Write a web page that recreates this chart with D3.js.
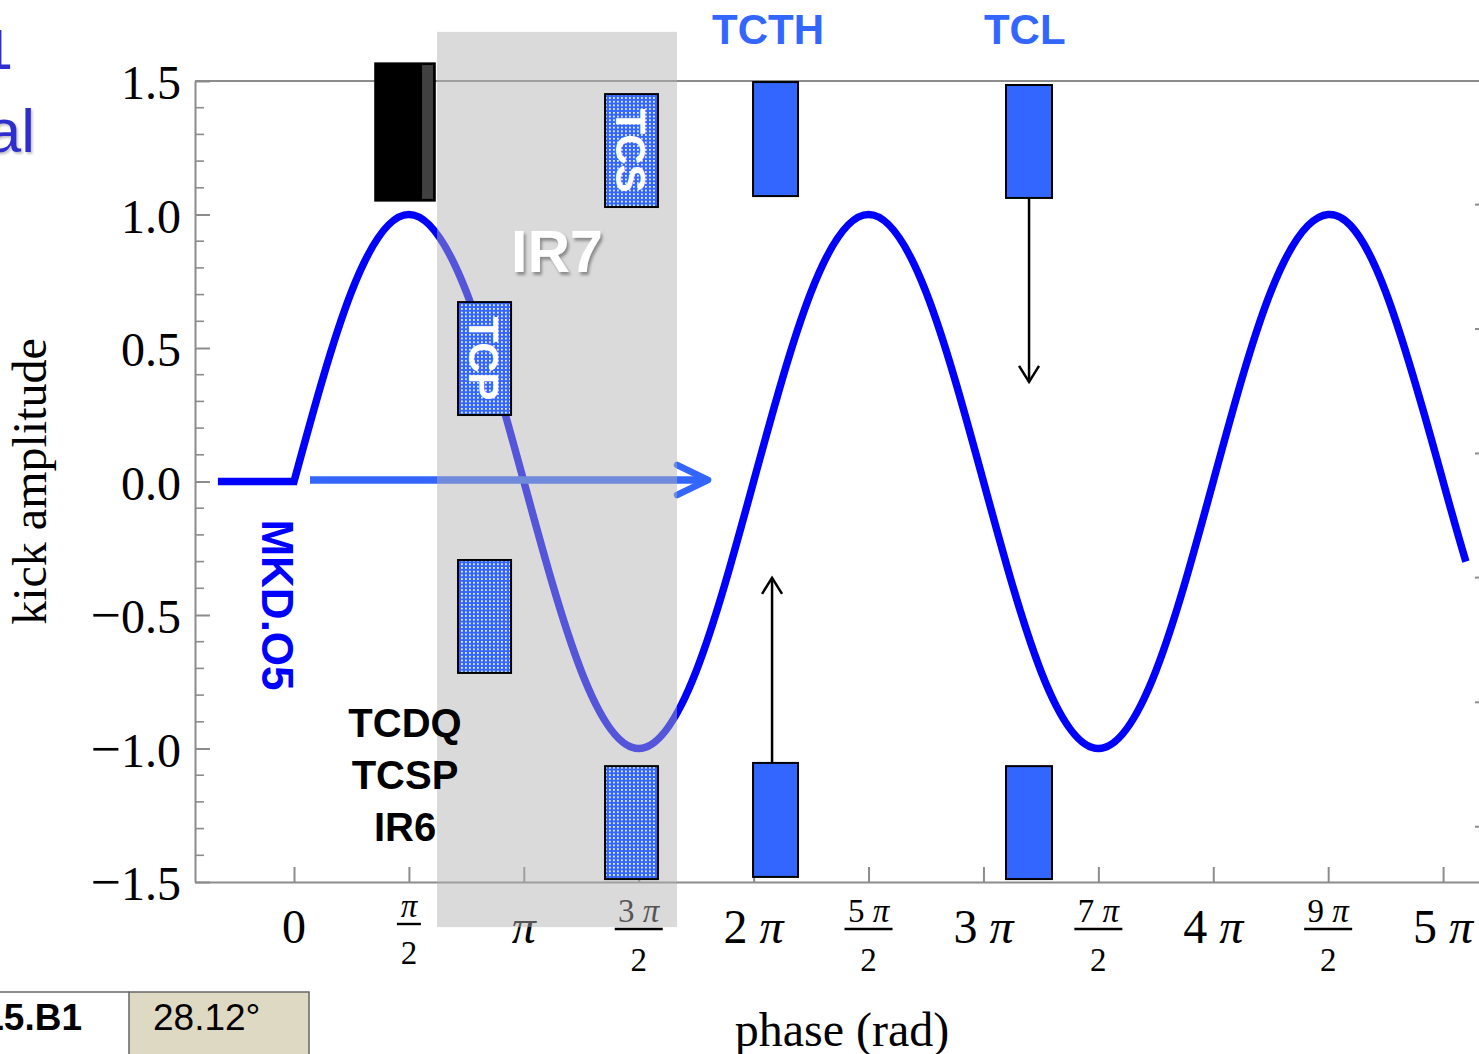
<!DOCTYPE html>
<html>
<head>
<meta charset="utf-8">
<script src="https://cdn.jsdelivr.net/npm/d3@7"></script>
<style>
  html, body { margin: 0; padding: 0; background: #fff; }
  svg { display: block; }
</style>
</head>
<body>
<svg id="chart" width="1479" height="1054"></svg>
<script>
// ---------------- data ----------------
// flat part before the kick
const flatPhase = [-1.04, 0];
const flatAmp = [0, 0];
// oscillation after the kick, sampled every pi/4
const sinePhase = [0, 0.785, 1.571, 2.356, 3.142, 3.927, 4.712, 5.498, 6.283, 7.069, 7.854,
                   8.639, 9.425, 10.21, 10.996, 11.781, 12.566, 13.352, 14.137, 14.923, 15.708, 16.02];
const sineAmp = [0, 0.71, 1.0, 0.71, 0, -0.71, -1.0, -0.71, 0, 0.71, 1.0,
                 0.71, 0, -0.71, -1.0, -0.71, 0, 0.71, 1.0, 0.71, 0, -0.30];

// x tick values in units of pi/2 and their labels
const xTickHalfPi = [0, 1, 2, 3, 4, 5, 6, 7, 8, 9, 10];
const xTickNumerators = ["0", "π", "π", "3 π", "2 π", "5 π", "3 π", "7 π", "4 π", "9 π", "5 π"];
const xTickDenominators = ["", "2", "", "2", "", "2", "", "2", "", "2", ""];

// y ticks
const yMajorTicks = [-1.5, -1.0, -0.5, 0.0, 0.5, 1.0, 1.5];
const yRightTicks = [1.037, 0.571, 0.105, -0.36, -0.827, -1.293];

// collimator blocks (phase range in rad, amplitude range)
const blockNames  = ["TCDQ", "TCS", "TCP", "IR7-low1", "IR7-low2", "TCTH-up", "TCTH-low", "TCL-up", "TCL-low"];
const blockKind   = ["absorber", "dotted", "dotted", "dotted", "dotted", "solid", "solid", "solid", "solid"];
const blockPhase0 = [1.107, 4.252, 2.242, 2.242, 4.252, 6.275, 6.275, 9.733, 9.733];
const blockPhase1 = [1.928, 4.976, 2.967, 2.967, 4.976, 6.890, 6.890, 10.362, 10.362];
const blockAmpTop = [1.567, 1.451, 0.672, -0.294, -1.066, 1.496, -1.054, 1.485, -1.066];
const blockAmpBot = [1.051, 1.028, 0.249, -0.717, -1.489, 1.069, -1.481, 1.062, -1.489];
const blockText   = ["", "TCS", "TCP", "", "", "", "", "", ""];

// IR7 region
const ir7Phase = [1.955, 5.236];
const ir7Amp = [1.684, -1.669];

// arrows
const phaseArrowPhase = [0.219, 5.66];
const vArrowPhase = [10.048, 6.535];
const vArrowFrom  = [1.062, -1.054];
const vArrowTo    = [0.373, -0.361];

// ---------------- drawing ----------------
const W = 1479, H = 1054;
const svg = d3.select("#chart");
const x = d3.scaleLinear().domain([-1.3534, 16.199]).range([195, 1479]);
const y = d3.scaleLinear().domain([-1.5, 1.5]).range([882, 81]);

const serif = "'Liberation Serif', 'Times New Roman', serif";
const sans = "'Liberation Sans', Arial, sans-serif";
const axisColor = "#8c8c8c";
const blue = "#3366ff";

const defs = svg.append("defs");
const pat = defs.append("pattern").attr("id", "dots").attr("patternUnits", "userSpaceOnUse")
  .attr("width", 4).attr("height", 3.7);
pat.append("rect").attr("width", 4).attr("height", 3.7).attr("fill", blue);
pat.append("rect").attr("x", 1).attr("y", 1).attr("width", 1.8).attr("height", 1.6).attr("fill", "#fff");
const shadow = defs.append("filter").attr("id", "shadow").attr("x", "-20%").attr("y", "-20%").attr("width", "150%").attr("height", "150%");
shadow.append("feDropShadow").attr("dx", 2).attr("dy", 3).attr("stdDeviation", 1.5).attr("flood-color", "#777").attr("flood-opacity", 0.8);
const shadowLight = defs.append("filter").attr("id", "shadowLight").attr("x", "-20%").attr("y", "-20%").attr("width", "150%").attr("height", "150%");
shadowLight.append("feDropShadow").attr("dx", 1.5).attr("dy", 2).attr("stdDeviation", 1.2).attr("flood-color", "#999").attr("flood-opacity", 0.6);

// partial slide text at top-left
svg.append("text").attr("x", 15).attr("y", 69).attr("text-anchor", "end")
  .style("font-family", "'DejaVu Sans', sans-serif").style("font-size", "54px").attr("fill", "#2f2fcf").text("1");
svg.append("text").attr("x", 35).attr("y", 152).attr("text-anchor", "end")
  .style("font-family", sans).style("font-size", "62px").attr("fill", "#2f2fcf")
  .attr("filter", "url(#shadowLight)").text("al");

// frame
svg.append("line").attr("x1", 195).attr("x2", W).attr("y1", y(1.5)).attr("y2", y(1.5))
  .attr("stroke", axisColor).attr("stroke-width", 2);

// left axis
const yAxis = d3.axisLeft(y).tickValues(yMajorTicks).tickSizeInner(-15).tickSizeOuter(0).tickPadding(14)
  .tickFormat(d => (d < 0 ? "−" : "") + d3.format(".1f")(Math.abs(d)));
const gy = svg.append("g").attr("transform", `translate(${x.range()[0]},0)`).call(yAxis);
gy.select(".domain").attr("stroke", axisColor).attr("stroke-width", 2);
gy.selectAll(".tick line").attr("stroke", axisColor).attr("stroke-width", 2);
gy.selectAll(".tick text").attr("dy", "0.37em").style("font-family", serif).style("font-size", "48px").attr("fill", "#000");
gy.selectAll(".tick text").filter(d => d < 0).attr("dx", "0").each(function (d) {
  const t = d3.select(this);
  t.text(null);
  t.append("tspan").style("font-size", "54px").text("−");
  t.append("tspan").text(d3.format(".1f")(Math.abs(d)));
});
const minor = d3.range(-15, 16).map(d => d / 10).filter(d => Math.abs(d * 2 - Math.round(d * 2)) > 1e-6);
svg.append("g").selectAll("line").data(minor).join("line")
  .attr("x1", 195).attr("x2", 204).attr("y1", d => y(d)).attr("y2", d => y(d))
  .attr("stroke", axisColor).attr("stroke-width", 1.6);

// right axis (off-screen line, ticks visible)
svg.append("g").selectAll("line").data(yRightTicks).join("line")
  .attr("x1", 1475).attr("x2", 1490).attr("y1", d => y(d)).attr("y2", d => y(d))
  .attr("stroke", axisColor).attr("stroke-width", 2);

// bottom axis
const xAxis = d3.axisBottom(x).tickValues(xTickHalfPi.map(k => k * Math.PI / 2))
  .tickSizeInner(-15).tickSizeOuter(0).tickFormat("");
const gx = svg.append("g").attr("transform", `translate(0,${y(-1.5)})`).call(xAxis);
gx.select(".domain").attr("stroke", axisColor).attr("stroke-width", 2);
gx.selectAll(".tick line").attr("stroke", axisColor).attr("stroke-width", 2);

// x tick labels (with fractions)
const xl = svg.append("g").style("font-family", serif).attr("fill", "#000");
xTickHalfPi.forEach((k, i) => {
  const cx = x(k * Math.PI / 2);
  const num = xTickNumerators[i], den = xTickDenominators[i];
  const writeMath = (t, s) => {
    s.split(" ").forEach((part, j) => {
      if (j > 0) t.append("tspan").text(" ");
      t.append("tspan").style("font-style", part === "π" ? "italic" : "normal").text(part);
    });
  };
  if (!den) {
    const t = xl.append("text").attr("x", cx).attr("y", 943).attr("text-anchor", "middle").style("font-size", "48px");
    writeMath(t, num);
  } else {
    const short = num === "π";
    const nb = short ? 917 : 922, lb = short ? 924 : 929, db = short ? 964 : 971;
    const lw = short ? 24 : 48;
    const t = xl.append("text").attr("x", cx).attr("y", nb).attr("text-anchor", "middle").style("font-size", "33px");
    writeMath(t, num);
    xl.append("line").attr("x1", cx - lw / 2).attr("x2", cx + lw / 2).attr("y1", lb).attr("y2", lb)
      .attr("stroke", "#000").attr("stroke-width", 2.4);
    xl.append("text").attr("x", cx).attr("y", db).attr("text-anchor", "middle").style("font-size", "33px").text(den);
  }
});

// axis titles
svg.append("text").attr("transform", `translate(46,${y(0)}) rotate(-90)`).attr("text-anchor", "middle")
  .style("font-family", serif).style("font-size", "48px").attr("fill", "#000").text("kick amplitude");
svg.append("text").attr("x", 842).attr("y", 1046).attr("text-anchor", "middle")
  .style("font-family", serif).style("font-size", "48px").attr("fill", "#000").text("phase (rad)");

// the curve
const lineLin = d3.line().x(d => x(d[0])).y(d => y(d[1]));
const lineNat = d3.line().x(d => x(d[0])).y(d => y(d[1])).curve(d3.curveNatural);
const flatPts = flatPhase.map((p, i) => [p, flatAmp[i]]);
const sinePts = sinePhase.map((p, i) => [p, sineAmp[i]]);
const pathD = lineLin(flatPts) + lineNat(sinePts).replace(/^M/, "L");
svg.append("path").attr("d", pathD).attr("fill", "none").attr("stroke", "#0000ff")
  .attr("stroke-width", 7.5).attr("stroke-linejoin", "miter").attr("stroke-linecap", "butt");

// phase advance arrow
const ax0 = x(phaseArrowPhase[0]), ax1 = x(phaseArrowPhase[1]), ay = y(0) - 1.5;
svg.append("line").attr("x1", ax0).attr("x2", ax1 - 4).attr("y1", ay).attr("y2", ay)
  .attr("stroke", blue).attr("stroke-width", 7.5);
svg.append("path").attr("d", `M${ax1 - 31},${ay - 15} L${ax1},${ay} L${ax1 - 31},${ay + 15}`)
  .attr("fill", "none").attr("stroke", blue).attr("stroke-width", 6.5)
  .attr("stroke-linecap", "round").attr("stroke-linejoin", "round");

// absorber (black) block
blockNames.forEach((n, i) => {
  if (blockKind[i] !== "absorber") return;
  const x0 = x(blockPhase0[i]), x1 = x(blockPhase1[i]), y0 = y(blockAmpTop[i]), y1 = y(blockAmpBot[i]);
  svg.append("rect").attr("x", x0).attr("y", y0).attr("width", x1 - x0).attr("height", y1 - y0)
    .attr("fill", "#000").attr("stroke", "#000").attr("stroke-width", 1.5);
  svg.append("rect").attr("x", x1 - 13).attr("y", y0 + 2).attr("width", 11).attr("height", y1 - y0 - 4)
    .attr("fill", "#404040");
});

// IR7 grey region
svg.append("rect").attr("x", x(ir7Phase[0])).attr("y", y(ir7Amp[0]))
  .attr("width", x(ir7Phase[1]) - x(ir7Phase[0])).attr("height", y(ir7Amp[1]) - y(ir7Amp[0]))
  .attr("fill", "#b1b1b1").attr("fill-opacity", 0.48);

// collimator blocks
blockNames.forEach((n, i) => {
  if (blockKind[i] === "absorber") return;
  const x0 = x(blockPhase0[i]), x1 = x(blockPhase1[i]), y0 = y(blockAmpTop[i]), y1 = y(blockAmpBot[i]);
  svg.append("rect").attr("x", x0).attr("y", y0).attr("width", x1 - x0).attr("height", y1 - y0)
    .attr("fill", blockKind[i] === "dotted" ? "url(#dots)" : blue)
    .attr("stroke", "#000").attr("stroke-width", 2);
  if (blockText[i]) {
    svg.append("text").attr("transform", `translate(${x0 + 11},${(y0 + y1) / 2}) rotate(90)`)
      .attr("text-anchor", "middle").style("font-family", sans).style("font-weight", "bold")
      .style("font-size", "42px").attr("fill", "#fff").text(blockText[i]);
  }
});

// vertical black arrows
vArrowPhase.forEach((p, i) => {
  const ax = x(p), a0 = y(vArrowFrom[i]), a1 = y(vArrowTo[i]);
  const dir = a1 > a0 ? 1 : -1;
  svg.append("line").attr("x1", ax).attr("x2", ax).attr("y1", a0).attr("y2", a1)
    .attr("stroke", "#000").attr("stroke-width", 2.5);
  svg.append("path").attr("d", `M${ax - 10},${a1 - dir * 16} L${ax},${a1} L${ax + 10},${a1 - dir * 16}`)
    .attr("fill", "none").attr("stroke", "#000").attr("stroke-width", 2.5);
});

// labels
svg.append("text").attr("x", 557).attr("y", 272).attr("text-anchor", "middle")
  .style("font-family", sans).style("font-weight", "bold").style("font-size", "59px")
  .attr("fill", "#fff").attr("filter", "url(#shadow)").text("IR7");
svg.append("text").attr("x", x(6.48)).attr("y", 44).attr("text-anchor", "middle")
  .style("font-family", sans).style("font-weight", "bold").style("font-size", "42px").attr("fill", blue).text("TCTH");
svg.append("text").attr("x", x(9.99)).attr("y", 44).attr("text-anchor", "middle")
  .style("font-family", sans).style("font-weight", "bold").style("font-size", "42px").attr("fill", blue).text("TCL");
svg.append("text").attr("transform", `translate(262,605) rotate(90)`).attr("text-anchor", "middle")
  .style("font-family", sans).style("font-weight", "bold").style("font-size", "44px").attr("fill", "#0000ff").text("MKD.O5");
["TCDQ", "TCSP", "IR6"].forEach((t, i) => {
  svg.append("text").attr("x", 405).attr("y", 737 + i * 52).attr("text-anchor", "middle")
    .style("font-family", sans).style("font-weight", "bold").style("font-size", "40px").attr("fill", "#000").text(t);
});

// table fragment at bottom-left
svg.append("rect").attr("x", 129).attr("y", 992).attr("width", 180).attr("height", 70)
  .attr("fill", "#ddd9c3").attr("stroke", "#666").attr("stroke-width", 1.5);
svg.append("line").attr("x1", 0).attr("x2", 129).attr("y1", 992).attr("y2", 992).attr("stroke", "#666").attr("stroke-width", 1.5);
svg.append("text").attr("x", 82).attr("y", 1030).attr("text-anchor", "end")
  .style("font-family", sans).style("font-weight", "bold").style("font-size", "37px").attr("fill", "#000").text("L5.B1");
svg.append("text").attr("x", 153).attr("y", 1030)
  .style("font-family", sans).style("font-size", "37px").attr("fill", "#000").text("28.12°");
</script>
</body>
</html>
